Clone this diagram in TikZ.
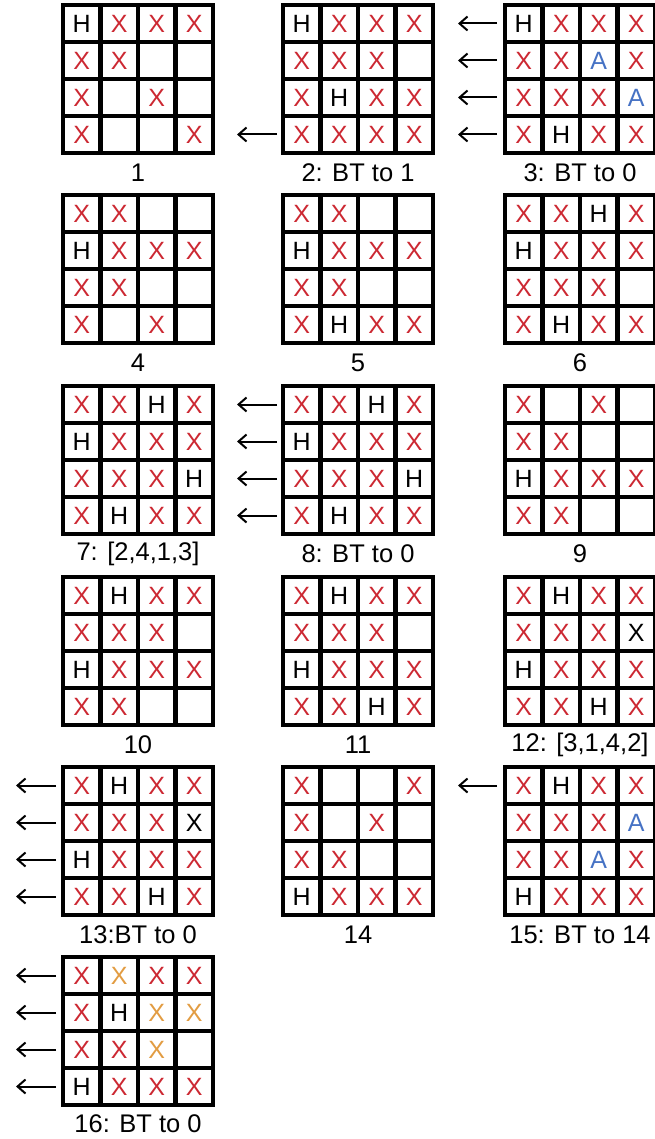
\documentclass[tikz,border=0pt]{standalone}
\usepackage{fontspec}
\setmainfont{Liberation Sans}
\usetikzlibrary{arrows.meta}
\definecolor{xred}{RGB}{204,40,50}
\definecolor{ablue}{RGB}{70,114,196}
\definecolor{xorange}{RGB}{226,156,66}
\tikzset{
  cell/.style={draw=black, line width=4.5pt, minimum width=37.5pt, minimum height=37pt,
    inner sep=0pt, outer sep=0pt, font=\fontsize{25}{29}\selectfont, anchor=center},
  cX/.style={text=xred, node contents={X}},
  cK/.style={text=black, node contents={X}},
  cH/.style={text=black, node contents={H}},
  cA/.style={text=ablue, node contents={A}},
  cO/.style={text=xorange, node contents={X}},
  cE/.style={node contents={}},
  lab/.style={font=\fontsize{25.5}{29}\selectfont, inner sep=0pt, anchor=center},
  arr/.style={line width=2pt, -{Straight Barb[length=8pt,width=14pt]}}
}
\newcommand\boardgrid[4]{%
  \foreach \v [count=\i from 0] in {#4} {%
    \pgfmathtruncatemacro\rr{div(\i,4)+1}%
    \pgfmathtruncatemacro\cc{mod(\i,4)+1}%
    \pgfmathsetmacro\px{#2+18.75+37.5*(\cc-1)}%
    \pgfmathsetmacro\py{#3+18.5+37*(\rr-1)}%
    \node[cell, name=#1-\rr-\cc, at={(\px,\py)}, c\v];
  }%
}
\begin{document}
\begin{tikzpicture}[x=1pt,y=-1pt]
\useasboundingbox (0,0) rectangle (655,1139);
% row 1
\boardgrid{g1}{63}{5}{H,X,X,X,X,X,E,E,X,E,X,E,X,E,E,X}
\boardgrid{g2}{283}{5}{H,X,X,X,X,X,X,E,X,H,X,X,X,X,X,X}
\boardgrid{g3}{505}{5}{H,X,X,X,X,X,A,X,X,X,X,A,X,H,X,X}
\node[lab] (t1) at (138,173) {1};
\node[lab] (t2) at (358,173) {2: BT to 1};
\node[lab] (t3) at (580,173) {3: BT to 0};
% row 2
\boardgrid{g4}{63}{195}{X,X,E,E,H,X,X,X,X,X,E,E,X,E,X,E}
\boardgrid{g5}{283}{195}{X,X,E,E,H,X,X,X,X,X,E,E,X,H,X,X}
\boardgrid{g6}{505}{195}{X,X,H,X,H,X,X,X,X,X,X,E,X,H,X,X}
\node[lab] (t4) at (138,363) {4};
\node[lab] (t5) at (358,363) {5};
\node[lab] (t6) at (580,363) {6};
% row 3
\boardgrid{g7}{63}{386}{X,X,H,X,H,X,X,X,X,X,X,H,X,H,X,X}
\boardgrid{g8}{283}{386}{X,X,H,X,H,X,X,X,X,X,X,H,X,H,X,X}
\boardgrid{g9}{505}{386}{X,E,X,E,X,X,E,E,H,X,X,X,X,X,E,E}
\node[lab] (t7) at (138,554) {7: [2,4,1,3]};
\node[lab] (t8) at (358,554) {8: BT to 0};
\node[lab] (t9) at (580,554) {9};
% row 4
\boardgrid{g10}{63}{577}{X,H,X,X,X,X,X,E,H,X,X,X,X,X,E,E}
\boardgrid{g11}{283}{577}{X,H,X,X,X,X,X,E,H,X,X,X,X,X,H,X}
\boardgrid{g12}{505}{577}{X,H,X,X,X,X,X,K,H,X,X,X,X,X,H,X}
\node[lab] (t10) at (138,745) {10};
\node[lab] (t11) at (358,745) {11};
\node[lab] (t12) at (580,745) {12: [3,1,4,2]};
% row 5
\boardgrid{g13}{63}{767}{X,H,X,X,X,X,X,K,H,X,X,X,X,X,H,X}
\boardgrid{g14}{283}{767}{X,E,E,X,X,E,X,E,X,X,E,E,H,X,X,X}
\boardgrid{g15}{505}{767}{X,H,X,X,X,X,X,A,X,X,A,X,H,X,X,X}
\node[lab] (t13) at (138,935) {13:BT to 0};
\node[lab] (t14) at (358,935) {14};
\node[lab] (t15) at (580,935) {15: BT to 14};
% row 6
\boardgrid{g16}{63}{957}{X,O,X,X,X,H,O,O,X,X,O,E,H,X,X,X}
\node[lab] (t16) at (138,1124) {16: BT to 0};
% arrows
\draw[arr] ([xshift=-6pt]g2-4-1.west) -- ([xshift=24pt]g1-4-4.east);
\foreach \r in {1,...,4} {
  \draw[arr] ([xshift=-8pt]g3-\r-1.west) -- ([xshift=25pt]g2-\r-4.east);
  \draw[arr] ([xshift=-6pt]g8-\r-1.west) -- ([xshift=24pt]g7-\r-4.east);
  \draw[arr] ([xshift=-7pt]g13-\r-1.west) -- ++(-40,0);
  \draw[arr] ([xshift=-7pt]g16-\r-1.west) -- ++(-40,0);
}
\draw[arr] ([xshift=-8pt]g15-1-1.west) -- ([xshift=25pt]g14-1-4.east);
\end{tikzpicture}
\end{document}
